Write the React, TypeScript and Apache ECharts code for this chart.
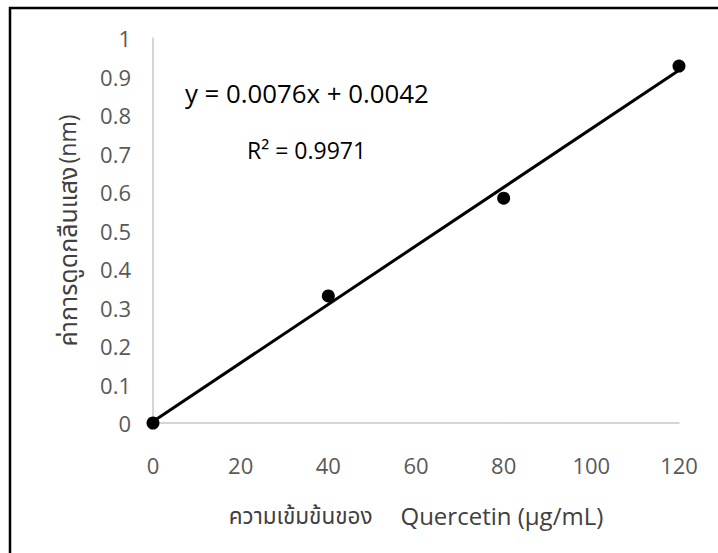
import React, { useEffect, useRef } from "react";
import * as echarts from "echarts";

const concentration = [0, 40, 80, 120];
const absorbance = [0, 0.33, 0.584, 0.927];
const trendX = [0, 120];
const trendY = [0.0042, 0.9162];
const equationText = "y = 0.0076x + 0.0042";
const r2Text = "R² = 0.9971";
const xTitleThai = "ความเข้มข้นของ";
const xTitleLatin = "Quercetin (μg/mL)";
const yTitleThai = "ค่าการดูดกลืนแสง";
const yTitleLatin = "(nm)";

const FONT = "'Open Sans', 'Noto Sans', 'Noto Sans Thai', 'DejaVu Sans', sans-serif";

export default function App() {
  const ref = useRef<HTMLDivElement>(null);
  useEffect(() => {
    if (!ref.current) return;
    const chart = echarts.init(ref.current, null, { renderer: "svg" });
    chart.setOption({
      animation: false,
      backgroundColor: "#ffffff",
      grid: { left: 153, right: 39, top: 38, bottom: 130, containLabel: false },
      xAxis: {
        type: "value",
        min: 0,
        max: 120,
        interval: 20,
        name: `{th|${xTitleThai}}{la|${xTitleLatin}}`,
        nameLocation: "middle",
        nameGap: 80,
        nameTextStyle: {
          color: "#404040",
          fontFamily: FONT,
          rich: {
            th: { fontSize: 22.5, color: "#404040", fontFamily: FONT },
            la: { fontSize: 24, color: "#404040", fontFamily: FONT, padding: [0, 0, 0, 28] },
          },
        },
        axisLine: { show: true, lineStyle: { color: "#c8c8c8", width: 1.5 } },
        axisTick: { show: false },
        splitLine: { show: false },
        axisLabel: { fontSize: 22, color: "#595959", margin: 31, fontFamily: FONT },
      },
      yAxis: {
        type: "value",
        min: 0,
        max: 1,
        interval: 0.1,
        name: `{th|${yTitleThai}} {la|${yTitleLatin}}`,
        nameLocation: "middle",
        nameGap: 74,
        nameRotate: 90,
        nameTextStyle: {
          color: "#404040",
          fontFamily: FONT,
          rich: {
            th: { fontSize: 25, color: "#404040", fontFamily: FONT },
            la: { fontSize: 23, color: "#404040", fontFamily: FONT },
          },
        },
        axisLine: { show: true, lineStyle: { color: "#c8c8c8", width: 1.5 } },
        axisTick: { show: false },
        splitLine: { show: false },
        axisLabel: { fontSize: 22, color: "#595959", margin: 22, fontFamily: FONT },
      },
      series: [
        {
          type: "line",
          data: trendX.map((x, i) => [x, trendY[i]]),
          showSymbol: false,
          symbol: "none",
          lineStyle: { color: "#000000", width: 3 },
          silent: true,
          z: 2,
        },
        {
          type: "scatter",
          data: concentration.map((x, i) => [x, absorbance[i]]),
          symbol: "circle",
          symbolSize: 13,
          itemStyle: { color: "#000000", opacity: 1 },
          z: 3,
        },
      ],
      graphic: [
        {
          type: "rect",
          shape: { x: 10, y: 8, width: 760, height: 600 },
          style: { fill: "none", stroke: "#000000", lineWidth: 2.5 },
          z: 10,
        },
        {
          type: "text",
          x: 185,
          y: 93,
          style: {
            text: equationText,
            fontSize: 25.8,
            fill: "#000000",
            fontFamily: FONT,
            verticalAlign: "middle",
            align: "left",
          },
        },
        {
          type: "text",
          x: 247,
          y: 150,
          style: {
            text: r2Text,
            fontSize: 23,
            fill: "#000000",
            fontFamily: FONT,
            verticalAlign: "middle",
            align: "left",
          },
        },
      ],
    });
    return () => chart.dispose();
  }, []);
  return (
    <div
      ref={ref}
      style={{ position: "fixed", left: 0, top: 0, width: 718, height: 553 }}
    />
  );
}
